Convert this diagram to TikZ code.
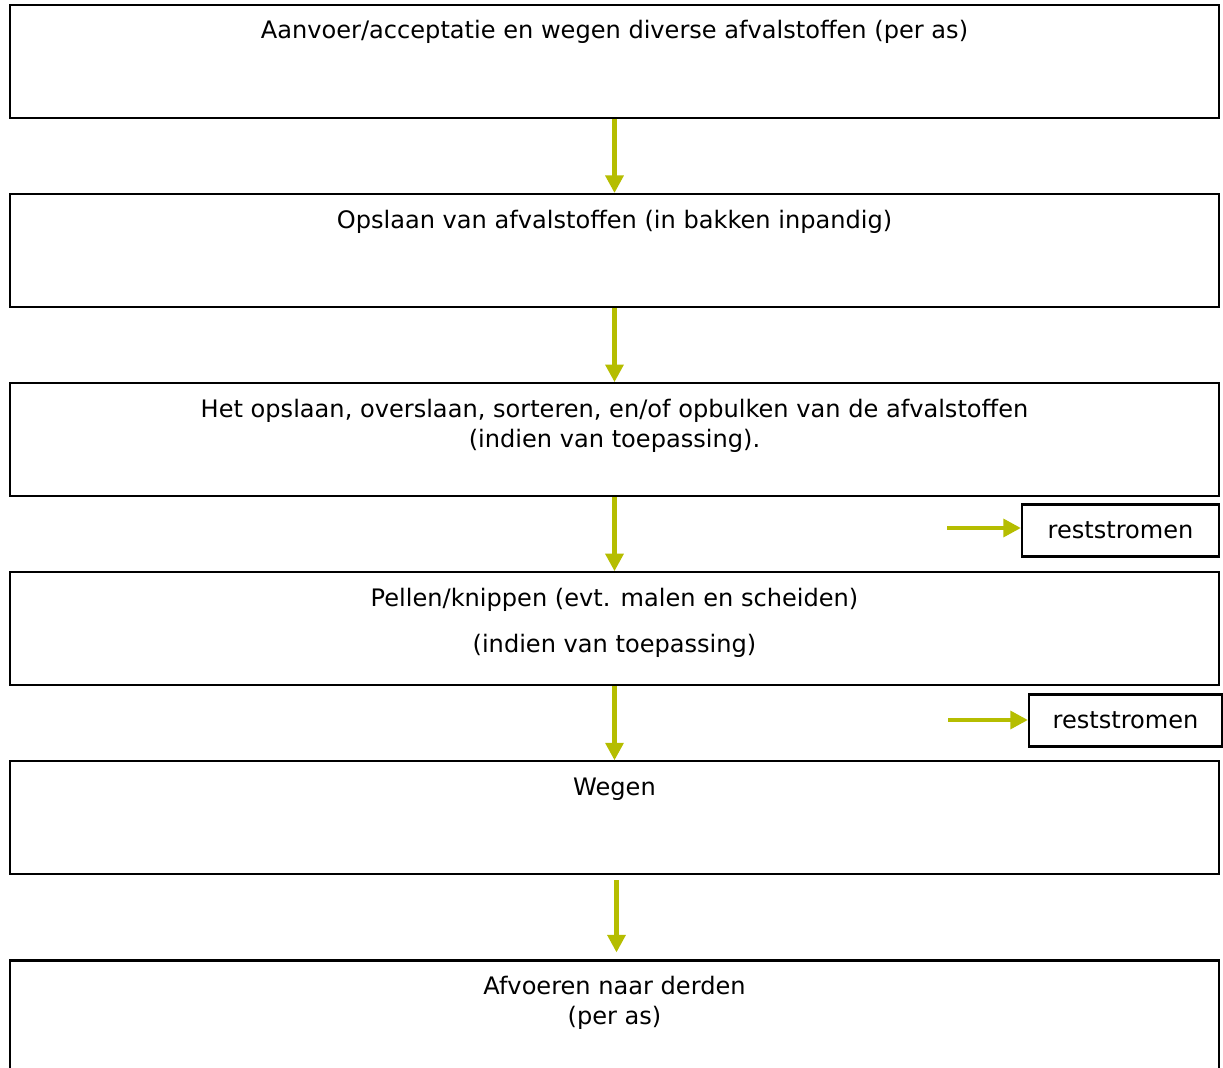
\documentclass[tikz,border=0pt]{standalone}
\usepackage{fontspec}
\setmainfont{DejaVu Sans}
\usepackage{tikz}
\usetikzlibrary{positioning,arrows.meta}
\definecolor{flowgreen}{RGB}{181,189,0}

\begin{document}
\begin{tikzpicture}
        [x = 1cm, y = 1cm,
        flow/.style = {-{Triangle[length = 5pt, width = 5pt]}, line width = 1.3pt, draw = flowgreen},
        box/.style = {rectangle, draw=black, line width = 0.6pt, minimum width = 12.09cm, minimum height = 1.13cm, inner sep = 0pt},
        restbox/.style = {rectangle, draw=black, line width = 0.6pt, minimum height = 0.52cm, inner sep = 0pt},
        boxtext/.style = {anchor = base, align = center, inner sep = 0pt, font = \fontsize{6.85}{8.54}\selectfont}]

        \useasboundingbox (0,0) rectangle (12.23,-10.68);

        %% place elements on canvas
        \node[box] (aanvoer) at (6.145,-0.615)        {};
        \node[box] (opslaan) [below = 0.74cm of aanvoer]  {};
        \node[box] (sorteren) [below = 0.74cm of opslaan] {};
        \node[box] (pellen) [below = 0.74cm of sorteren]  {};
        \node[box] (wegen) [below = 0.74cm of pellen]     {};
        \node[box] (afvoeren) [below = 0.84cm of wegen]   {};

        \node[restbox, minimum width = 1.97cm, font = \fontsize{6.85}{8.54}\selectfont] (rest1) at (11.205,-5.305) {reststromen};
        \node[restbox, minimum width = 1.93cm, font = \fontsize{6.85}{8.54}\selectfont] (rest2) at (11.255,-7.205) {reststromen};
        \coordinate (rest1in) at (9.47,-5.28);
        \coordinate (rest2in) at (9.48,-7.20);

        %% texts in the boxes (base = last line)
        \node[boxtext] (aanvoertxt) at ([yshift = -0.35cm]aanvoer.north)
            {Aanvoer/acceptatie en wegen diverse afvalstoffen (per as)};
        \node[boxtext] (opslaantxt) at ([yshift = -0.35cm]opslaan.north)
            {Opslaan van afvalstoffen (in bakken inpandig)};
        \node[boxtext] (sorterentxt) at ([yshift = -0.65cm]sorteren.north)
            {Het opslaan, overslaan, sorteren, en/of opbulken van de afvalstoffen\\(indien van toepassing).};
        \node[boxtext] (pellentxt) at ([yshift = -0.81cm]pellen.north)
            {Pellen/knippen (evt. malen en scheiden)\\[4.6pt](indien van toepassing)};
        \node[boxtext] (wegentxt) at ([yshift = -0.35cm]wegen.north)
            {Wegen};
        \node[boxtext] (afvoerentxt) at ([yshift = -0.65cm]afvoeren.north)
            {Afvoeren naar derden\\(per as)};

        %% connect elements
        \draw[flow] (aanvoer) -- (opslaan);
        \draw[flow] (opslaan) -- (sorteren);
        \draw[flow] (sorteren) -- (pellen);
        \draw[flow] (pellen) -- (wegen);
        \draw[flow, shorten <= 0.05cm, shorten >= 0.07cm] ([xshift = 0.02cm]wegen.south) -- ([xshift = 0.02cm]afvoeren.north);
        \draw[flow] (rest1in) -- (rest1in -| rest1.west);
        \draw[flow] (rest2in) -- (rest2in -| rest2.west);
    \end{tikzpicture}
\end{document}
